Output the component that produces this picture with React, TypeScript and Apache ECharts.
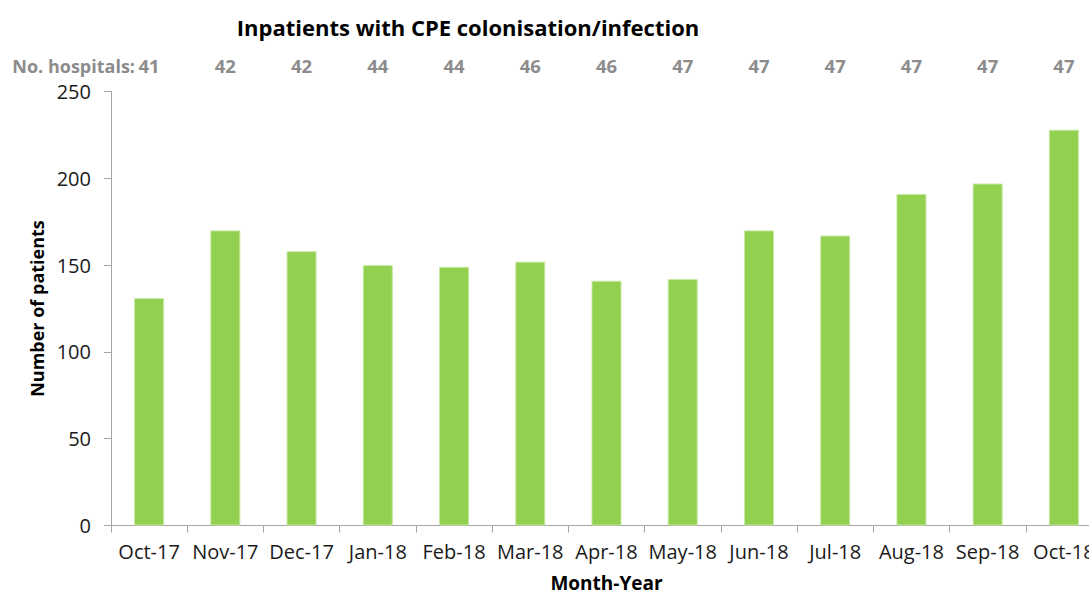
import React, { useEffect, useRef } from "react";
import * as echarts from "echarts";

const categories = ["Oct-17", "Nov-17", "Dec-17", "Jan-18", "Feb-18", "Mar-18", "Apr-18", "May-18", "Jun-18", "Jul-18", "Aug-18", "Sep-18", "Oct-18"];
const patients = [131, 170, 158, 150, 149, 152, 141, 142, 170, 167, 191, 197, 228];
const hospitals = ["41", "42", "42", "44", "44", "46", "46", "47", "47", "47", "47", "47", "47"];
const yTicks = [0, 50, 100, 150, 200, 250];

const FONT = "'Open Sans', sans-serif";

export default function App() {
  const ref = useRef<HTMLDivElement>(null);
  useEffect(() => {
    if (!ref.current) return;
    const chart = echarts.init(ref.current, undefined, { renderer: "svg" });
    chart.setOption({
      animation: false,
      backgroundColor: "#ffffff",
      textStyle: { fontFamily: FONT },
      graphic: [
        {
          type: "text",
          x: 468,
          y: 27,
          style: {
            text: "Inpatients with CPE colonisation/infection",
            fontFamily: FONT,
            fontSize: 22,
            fontWeight: "bold",
            fill: "#000000",
            textAlign: "center",
            textVerticalAlign: "middle",
          },
        },
        {
          type: "text",
          x: 135,
          y: 66,
          style: {
            text: "No. hospitals:",
            fontFamily: FONT,
            fontSize: 18,
            fontWeight: "bold",
            fill: "#8c8c8c",
            textAlign: "right",
            textVerticalAlign: "middle",
          },
        },
      ],
      grid: {
        left: 111,
        right: 28,
        top: 91.5,
        bottom: 596 - 525.5,
        containLabel: false,
        outerBoundsMode: "none",
      },
      xAxis: [
        {
          type: "category",
          data: categories,
          position: "bottom",
          axisLine: { show: true, lineStyle: { color: "#a6a6a6", width: 1 } },
          axisTick: { show: true, length: 7, lineStyle: { color: "#a6a6a6" } },
          axisLabel: { color: "#1a1a1a", fontSize: 20, fontFamily: FONT, margin: 16, interval: 0 },
          name: "Month-Year",
          nameLocation: "middle",
          nameGap: 48,
          nameTextStyle: { color: "#000000", fontSize: 19, lineHeight: 18, fontWeight: "bold", fontFamily: FONT },
        },
        {
          type: "category",
          data: hospitals,
          position: "top",
          axisLine: { show: false },
          axisTick: { show: false },
          axisLabel: { color: "#8c8c8c", fontSize: 18.5, fontWeight: "bold", fontFamily: FONT, margin: 17, interval: 0 },
        },
      ],
      yAxis: {
        type: "value",
        min: yTicks[0],
        max: yTicks[yTicks.length - 1],
        interval: 50,
        axisLine: { show: true, lineStyle: { color: "#a6a6a6", width: 1 } },
        axisTick: { show: true, length: 7, lineStyle: { color: "#a6a6a6" } },
        splitLine: { show: false },
        axisLabel: { color: "#1a1a1a", fontSize: 20, fontFamily: FONT, margin: 20 },
        name: "Number of patients",
        nameLocation: "middle",
        nameGap: 62,
        nameTextStyle: { color: "#000000", fontSize: 18, fontWeight: "bold", fontFamily: FONT },
      },
      series: [
        {
          type: "bar",
          data: patients,
          xAxisIndex: 0,
          barWidth: 30,
          itemStyle: { color: "#92d050", borderColor: "#c6e8a2", borderWidth: 1 },
        },
      ],
    });
    return () => chart.dispose();
  }, []);
  return (
    <div style={{ position: "fixed", left: 0, top: 0, width: 1089, height: 596, overflow: "hidden", background: "#fff" }}>
      <div ref={ref} style={{ width: 1130, height: 596 }} />
    </div>
  );
}
